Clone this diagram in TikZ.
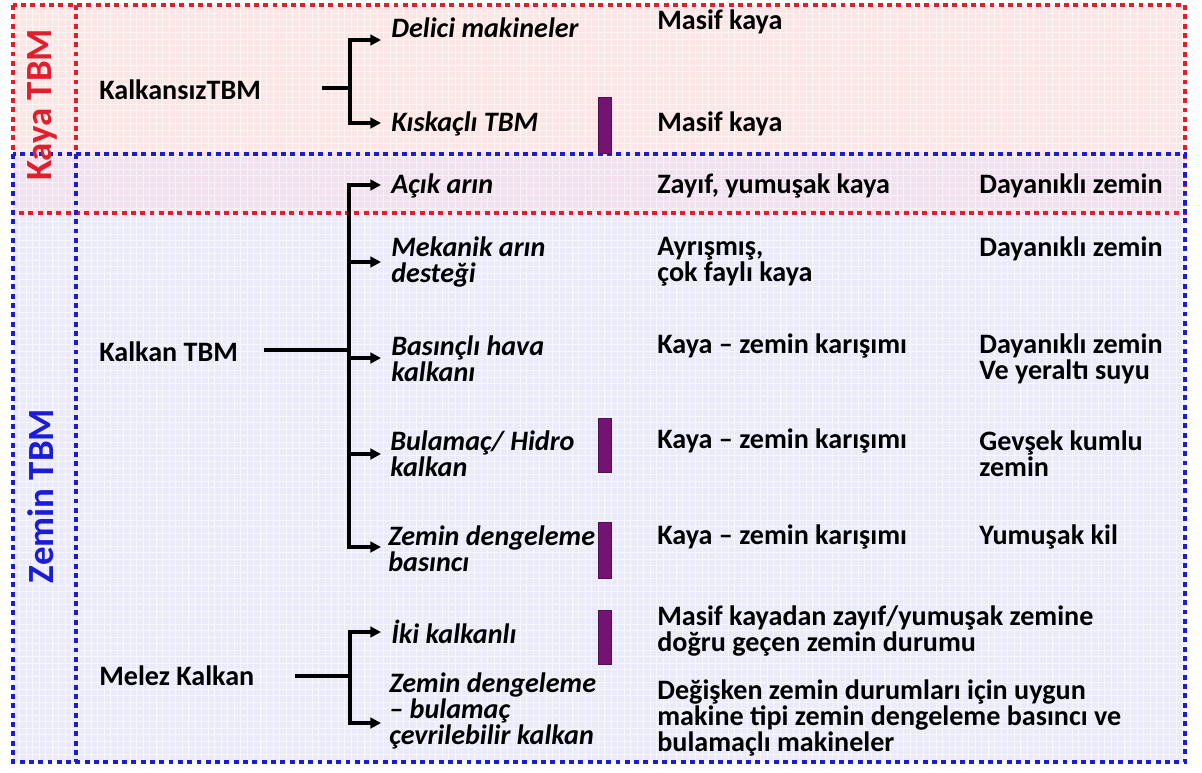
\documentclass[tikz,border=0pt]{standalone}
\usepackage{fontspec}
\setmainfont{Carlito}
\usepackage{xcolor}
\usetikzlibrary{arrows.meta}

\definecolor{kayakirmizi}{RGB}{226,30,45}
\definecolor{zeminmavi}{RGB}{28,28,212}
\definecolor{kayazemin}{RGB}{252,229,229}
\definecolor{zeminzemin}{RGB}{234,234,250}
\definecolor{ortakzemin}{RGB}{241,224,238}
\definecolor{mor}{RGB}{115,20,115}

\tikzset{
	noktali/.style = {line width=2.8pt, dash pattern=on 2.8pt off 2.5pt},
	baslik/.style = {anchor=west, inner sep=0pt, align=left},
	tip/.style = {baslik, font=\bfseries\itshape\fontsize{16}{14.8}\selectfont},
	kenar/.style = {rotate=90, font=\bfseries\fontsize{21}{24}\selectfont},
	kol/.style = {line width=1.8pt},
	ok/.style = {kol, -{Triangle[length=6pt,width=6pt]}},
	cubuk/.style = {draw=mor!75!black, fill=mor, minimum width=0.26cm, inner sep=0pt},
}

\begin{document}
\begin{tikzpicture}[x=0.02cm, y=-0.02cm, font=\bfseries\fontsize{16}{14.8}\selectfont]
	\useasboundingbox (0,0) rectangle (1202,772);

	\begin{scope}
		\fill[kayazemin] (13,5) rectangle (1185,213);
		\fill[zeminzemin] (13,213) rectangle (1185,762);
		\fill[ortakzemin] (13,154) rectangle (1185,213);
		\draw[white, opacity=0.6, line width=0.4pt, step=0.13cm] (13,5) grid (1185,762);
	\end{scope}

	\begin{scope}[noktali]
		\draw[kayakirmizi] (13,5) rectangle (1185,213);
		\draw[kayakirmizi] (76,5) -- (76,213);
		\draw[zeminmavi] (13,154) rectangle (1185,762);
		\draw[zeminmavi] (76,154) -- (76,762);
	\end{scope}

	\node[kenar, kayakirmizi] (kaya) at (42,105) {Kaya TBM};
	\node[kenar, zeminmavi] (zemin) at (41,496) {Zemin TBM};

	\node[baslik] (kalkansiz) at (99,90) {KalkansızTBM};
	\node[baslik] (kalkan) at (99,352) {Kalkan TBM};
	\node[baslik] (melez) at (99,676) {Melez Kalkan};

	\node[tip] (delici) at (391,28) {Delici makineler};
	\node[tip] (kiskacli) at (391,124) {Kıskaçlı TBM};
	\node[tip] (acik) at (391,186) {Açık arın};
	\node[tip] (mekanik) at (391,262) {Mekanik arın\\desteği};
	\node[tip] (basincli) at (391,359) {Basınçlı hava\\kalkanı};
	\node[tip] (bulamac) at (390,454) {Bulamaç/ Hidro\\kalkan};
	\node[tip] (epb) at (388,549) {Zemin dengeleme\\basıncı};
	\node[tip] (iki) at (391,632) {İki kalkanlı};
	\node[tip] (cevrilebilir) at (389,711) {Zemin dengeleme\\– bulamaç\\çevrilebilir kalkan};

	\node[baslik] (masif1) at (657,22) {Masif kaya};
	\node[baslik] (masif2) at (657,124) {Masif kaya};
	\node[baslik] (zayif) at (657,186) {Zayıf, yumuşak kaya};
	\node[baslik] (ayrismis) at (657,262) {Ayrışmış,\\çok faylı kaya};
	\node[baslik] (karisim1) at (657,346) {Kaya – zemin karışımı};
	\node[baslik] (karisim2) at (657,441) {Kaya – zemin karışımı};
	\node[baslik] (karisim3) at (657,537) {Kaya – zemin karışımı};
	\node[baslik] (gecen) at (657,631) {Masif kayadan zayıf/yumuşak zemine\\doğru geçen zemin durumu};
	\node[baslik] (degisken) at (657,718) {Değişken zemin durumları için uygun\\makine tipi zemin dengeleme basıncı ve\\bulamaçlı makineler};

	\node[baslik] (dayanikli1) at (979,186) {Dayanıklı zemin};
	\node[baslik] (dayanikli2) at (979,249) {Dayanıklı zemin};
	\node[baslik] (dayanikli3) at (979,359) {Dayanıklı zemin\\Ve yeraltı suyu};
	\node[baslik] (gevsek) at (979,454) {Gevşek kumlu\\zemin};
	\node[baslik] (kil) at (979,537) {Yumuşak kil};

	\foreach \ad/\y/\h in {cubuk1/125/56, cubuk2/445/54, cubuk3/550/56, cubuk4/637/54}
	{
		\node[cubuk, minimum height=\h*0.02cm] (\ad) at (605,\y) {};
	}

	\coordinate (kbas) at (322,88);
	\coordinate (kdal) at (350,88);
	\coordinate (zbas) at (264,350);
	\coordinate (zdal) at (349,350);
	\coordinate (mbas) at (295,676);
	\coordinate (mdal) at (350,676);

	\draw[kol] (kbas) -- (kdal);
	\draw[kol] (zbas) -- (zdal);
	\draw[kol] (mbas) -- (mdal);

	\foreach \ad/\y in {u1/40, u2/123}
	{
		\coordinate (\ad) at (381,\y);
		\draw[ok] (kdal) |- (\ad);
	}
	\foreach \ad/\y in {u3/185, u4/262, u5/358, u6/454, u7/547}
	{
		\coordinate (\ad) at (381,\y);
		\draw[ok] (zdal) |- (\ad);
	}
	\foreach \ad/\y in {u8/632, u9/723}
	{
		\coordinate (\ad) at (381,\y);
		\draw[ok] (mdal) |- (\ad);
	}
\end{tikzpicture}
\end{document}
